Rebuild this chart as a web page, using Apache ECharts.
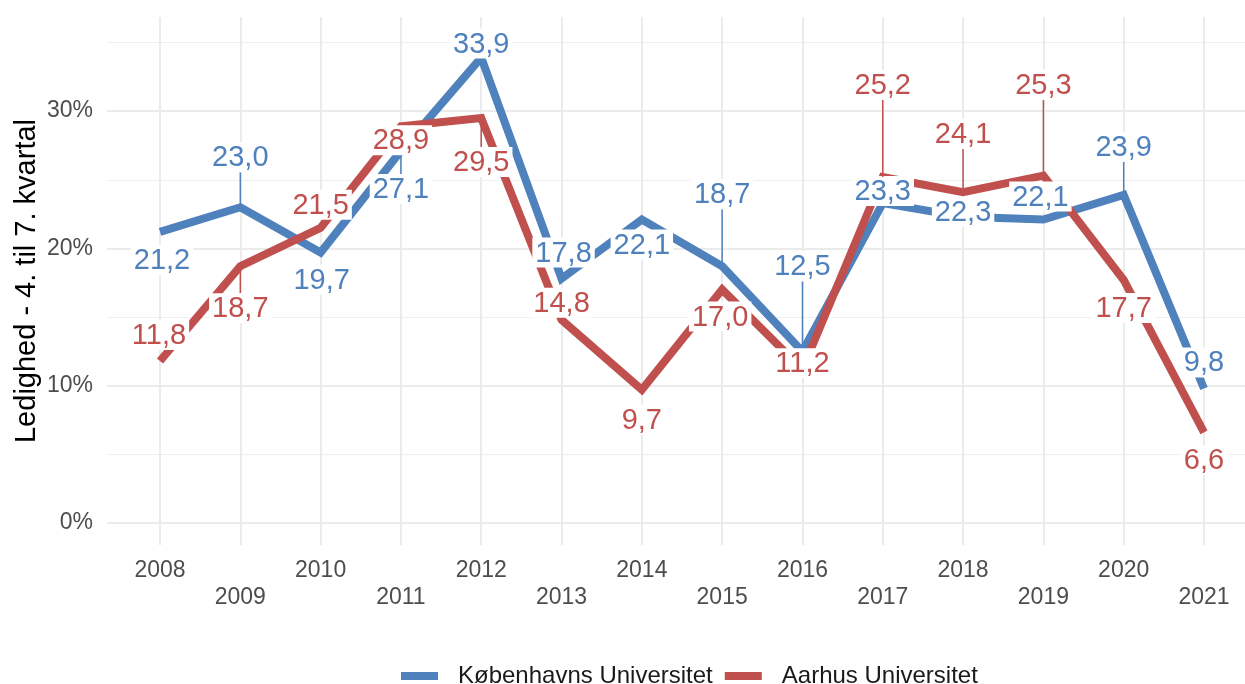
<!DOCTYPE html>
<html>
<head>
<meta charset="utf-8">
<script src="https://cdn.jsdelivr.net/npm/echarts@6/dist/echarts.min.js"></script>
<style>
html,body{margin:0;padding:0;background:#fff;}
#chart{width:1245px;height:684px;}
</style>
</head>
<body>
<div id="chart"></div>
<script>
// ---- data ----
const years = ['2008','2009','2010','2011','2012','2013','2014','2015','2016','2017','2018','2019','2020','2021'];
const kuName = 'Københavns Universitet';
const auName = 'Aarhus Universitet';
const kuValues = [21.2, 23.0, 19.7, 27.1, 33.9, 17.8, 22.1, 18.7, 12.5, 23.3, 22.3, 22.1, 23.9, 9.8];
const auValues = [11.8, 18.7, 21.5, 28.9, 29.5, 14.8, 9.7, 17.0, 11.2, 25.2, 24.1, 25.3, 17.7, 6.6];
const yAxisTitle = 'Ledighed - 4. til 7. kvartal';

// ---- label placement (pixel offsets from the data point; style only) ----
const kuLabelOffsets = [[2,28],[0,-50],[1,27],[0,38],[0,-14],[2,-26],[0,25],[0,-72],[0,-85],[0,-12],[0,-5],[-3,-23],[0,-48],[0,-26]];
const auLabelOffsets = [[-1,-26],[0,42],[0,-23],[0,14],[0,44],[0,-17],[0,30],[-2,27],[0,-6],[0,-92],[0,-58],[0,-91],[0,28],[0,28]];

const KU_COLOR = '#4f81bd';
const AU_COLOR = '#c0504d';
const FONT = '"Liberation Sans", Arial, sans-serif';
const LABEL_FONT_SIZE = 29;
const TICK_FONT_SIZE = 23;

const measureCtx = document.createElement('canvas').getContext('2d');
measureCtx.font = LABEL_FONT_SIZE + 'px ' + FONT;
function fmt(v){ return v.toFixed(1).replace('.', ','); }

function labelSeries(values, offsets, color){
  return {
    type: 'custom',
    xAxisIndex: 0, yAxisIndex: 0,
    silent: true,
    z: 10,
    clip: false,
    data: values.map((v, i) => [i, v]),
    renderItem: function(params, api){
      const i = params.dataIndex;
      const p = api.coord([api.value(0), api.value(1)]);
      const off = offsets[i];
      const cx = p[0] + off[0], cy = p[1] + off[1];
      const text = fmt(values[i]);
      const w = measureCtx.measureText(text).width;
      const hw = w / 2 + 3, hh = 15;
      const children = [];
      const vx = p[0] - cx, vy = p[1] - cy;
      const s = Math.min(vx === 0 ? Infinity : hw / Math.abs(vx), vy === 0 ? Infinity : hh / Math.abs(vy));
      if (s < 1) {
        const ex = cx + vx * s, ey = cy + vy * s;
        const len = Math.hypot(p[0] - ex, p[1] - ey);
        if (len > 18) {
          children.push({type:'line', shape:{x1:p[0], y1:p[1], x2:ex, y2:ey}, style:{stroke:color, lineWidth:1.5}});
        }
      }
      children.push({type:'rect', shape:{x:cx-hw, y:cy-hh, width:2*hw, height:2*hh}, style:{fill:'#ffffff'}});
      children.push({type:'text', style:{text:text, x:cx, y:cy+1, align:'center', verticalAlign:'middle', fill:color, font: LABEL_FONT_SIZE + 'px ' + FONT}});
      return {type:'group', children: children};
    }
  };
}

const chart = echarts.init(document.getElementById('chart'));
const option = {
  animation: false,
  backgroundColor: '#ffffff',
  textStyle: {fontFamily: FONT},
  grid: [
    {left: 160, width: 1044, top: 17, height: 528},
    {left: 107, width: 1149, top: 42.45, height: 480.55},
    {left: 107, width: 1149, top: 111.1, height: 411.9}
  ],
  xAxis: [
    {
      gridIndex: 0, type: 'category', data: years, boundaryGap: false,
      axisLine: {show: false}, axisTick: {show: false},
      splitLine: {show: true, interval: 0, lineStyle: {color: '#ebebeb', width: 2}},
      axisLabel: {
        interval: 0, margin: 12, color: '#4d4d4d', fontSize: TICK_FONT_SIZE, lineHeight: 27, fontFamily: FONT,
        formatter: function(val, idx){ return idx % 2 ? '\n' + val : val; }
      }
    },
    {gridIndex: 1, type: 'value', min: 0, max: 1, show: false},
    {gridIndex: 2, type: 'value', min: 0, max: 1, show: false}
  ],
  yAxis: [
    {gridIndex: 0, type: 'value', min: -1.602, max: 36.853, show: false},
    {
      gridIndex: 1, type: 'value', min: 0, max: 35, interval: 5,
      axisLine: {show: false}, axisTick: {show: false},
      axisLabel: {
        color: '#4d4d4d', fontSize: TICK_FONT_SIZE, margin: 14, fontFamily: FONT,
        formatter: function(v){ return v % 10 === 0 ? v + '%' : ''; }
      },
      splitLine: {show: true, lineStyle: {color: '#efefef', width: 1.2}}
    },
    {
      gridIndex: 2, type: 'value', min: 0, max: 30, interval: 10,
      axisLine: {show: false}, axisTick: {show: false}, axisLabel: {show: false},
      splitLine: {show: true, lineStyle: {color: '#ebebeb', width: 2}}
    }
  ],
  legend: {
    data: [kuName, auName],
    left: 396, top: 659,
    icon: 'rect', itemWidth: 37, itemHeight: 8, itemGap: 12,
    textStyle: {fontSize: 24, color: '#1a1a1a', fontFamily: FONT, padding: [0, 0, 0, 15]}
  },
  graphic: [
    {
      type: 'text', x: 27, y: 281, rotation: Math.PI / 2,
      style: {text: yAxisTitle, align: 'center', verticalAlign: 'middle', fill: '#000000', font: '29px ' + FONT}
    }
  ],
  series: [
    {
      name: kuName, type: 'line', xAxisIndex: 0, yAxisIndex: 0, data: kuValues,
      showSymbol: false, symbol: 'none', color: KU_COLOR,
      lineStyle: {color: KU_COLOR, width: 8, join: 'miter', cap: 'butt'}, z: 3
    },
    {
      name: auName, type: 'line', xAxisIndex: 0, yAxisIndex: 0, data: auValues,
      showSymbol: false, symbol: 'none', color: AU_COLOR,
      lineStyle: {color: AU_COLOR, width: 8, join: 'miter', cap: 'butt'}, z: 4
    },
    labelSeries(kuValues, kuLabelOffsets, KU_COLOR),
    labelSeries(auValues, auLabelOffsets, AU_COLOR)
  ]
};
chart.setOption(option);
</script>
</body>
</html>
